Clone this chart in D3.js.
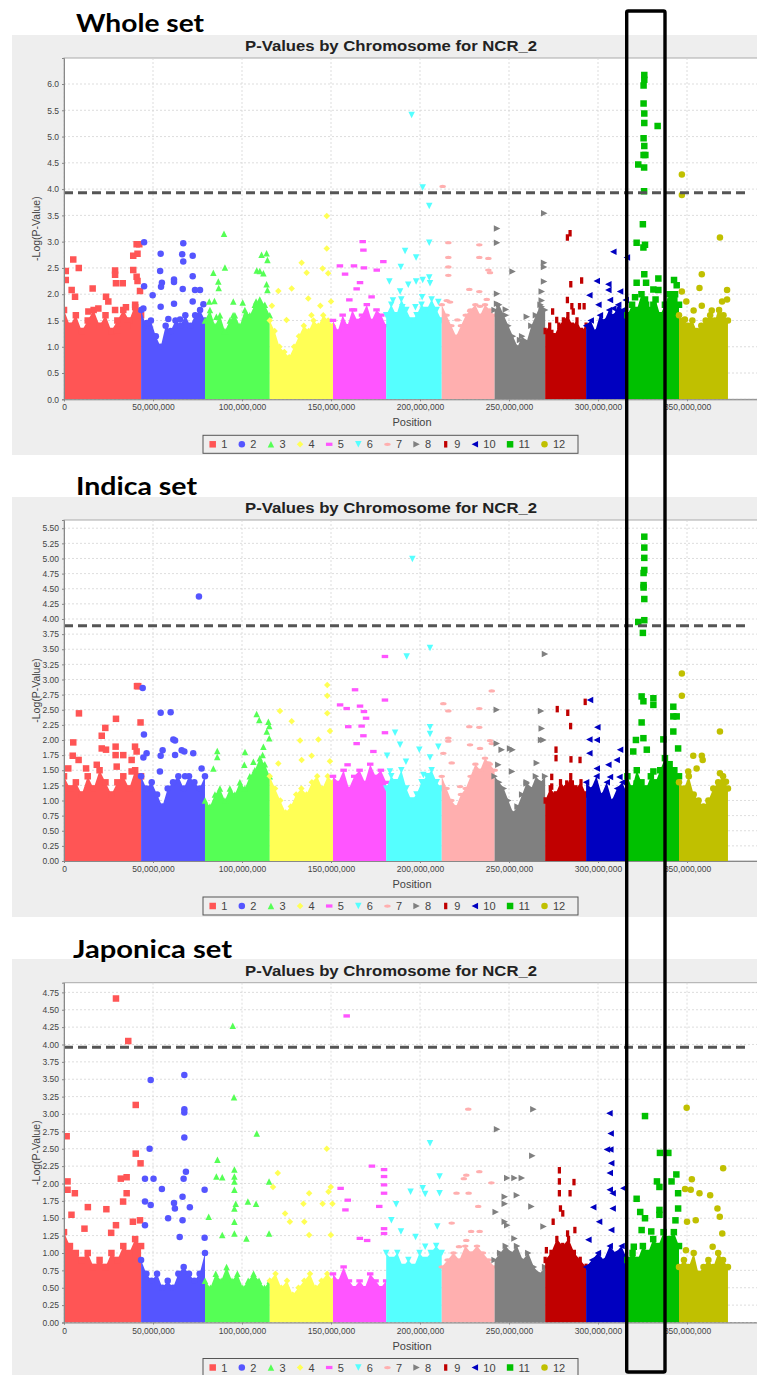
<!DOCTYPE html>
<html><head><meta charset="utf-8">
<script src="https://cdn.jsdelivr.net/npm/d3@7"></script>
<style>body{margin:0;background:#fff;} svg{display:block;}</style>
</head><body>
<svg id="c" width="757" height="1375"></svg>
<script>
// ---------------- DATA ----------------
const chromosomes = ["1","2","3","4","5","6","7","8","9","10","11","12"];
const chromStartMb = [0,43.3,79.2,115.6,151.1,181.0,212.2,241.9,270.3,293.3,316.5,345.5];
const chromEndMb   = [43.3,79.2,115.6,151.1,181.0,212.2,241.9,270.3,293.3,316.5,345.5,373.0];
const xTickMb = [0,50,100,150,200,250,300,350];
const wholeYTicks = [0,0.5,1,1.5,2,2.5,3,3.5,4,4.5,5,5.5,6];
const indicaYTicks = [0,0.25,0.5,0.75,1,1.25,1.5,1.75,2,2.25,2.5,2.75,3,3.25,3.5,3.75,4,4.25,4.5,4.75,5,5.25,5.5];
const japonicaYTicks = [0,0.25,0.5,0.75,1,1.25,1.5,1.75,2,2.25,2.5,2.75,3,3.25,3.5,3.75,4,4.25,4.5,4.75];
const wholeThreshold = 3.93, indicaThreshold = 3.89, japonicaThreshold = 3.96;
const chartTitle = "P-Values by Chromosome for NCR_2";

// dense body height (-log p) per chromosome, sampled evenly along each chromosome
const wholeBody = [
 [1.7,1.4,1.6,1.3,1.5,1.7,1.4,1.6,1.3,1.5,1.7,1.5,1.8,1.6],
 [1.7,1.4,1.5,1.2,1.0,1.4,1.3,1.5,1.4,1.6,1.4,1.6,1.7,1.5],
 [1.5,1.7,1.4,1.6,1.3,1.5,1.6,1.4,1.7,1.6,1.8,1.9,1.8,1.6],
 [1.5,1.3,1.0,0.9,0.8,1.0,1.2,1.4,1.3,1.5,1.4,1.6,1.5,1.4],
 [1.5,1.3,1.6,1.4,1.7,1.5,1.6,1.8,1.5,1.7,1.6,1.4],
 [1.6,1.8,1.6,1.9,1.7,1.5,1.6,1.8,1.7,1.9,1.7,1.5],
 [1.8,1.6,1.4,1.2,1.4,1.6,1.7,1.8,1.6,1.8,1.7,1.6],
 [1.7,1.8,1.6,1.4,1.2,1.0,1.2,1.1,1.4,1.6,1.8,1.7],
 [1.3,1.4,1.2,1.4,1.5,1.6,1.4,1.5,1.3,1.4],
 [1.4,1.5,1.3,1.6,1.5,1.7,1.6,1.8,1.7,1.6],
 [1.6,1.8,1.7,2.0,1.8,1.7,1.9,1.6,1.8,2.0,1.9,1.8],
 [1.6,1.5,1.4,1.5,1.3,1.4,1.5,1.6,1.5,1.7,1.6,1.5]
];
// [chromosome, genome position (Mb), -log10 p]
const wholeHits = [
 [1,1.0,2.44],[1,1.0,2.27],[1,5.2,2.66],[1,4.3,2.08],[1,6.2,1.95],[1,8.3,2.50],[1,13.7,1.67],[1,16.1,2.11],[1,19.3,1.73],[1,23.6,1.95],[1,24.9,1.86],[1,28.7,2.45],[1,28.7,2.37],[1,28.7,1.70],[1,29.2,2.21],[1,29.8,1.32],[1,33,2.21],[1,34.8,1.75],[1,35.6,1.40],[1,38.9,2.73],[1,38.9,2.46],[1,40,1.75],[1,40.8,2.95],[1,40.8,2.33],[1,41.3,2.77],[1,41.3,2.25],[1,42.3,2.95],[1,42.7,2.06],
 [2,45,2.99],[2,54.3,2.77],[2,54,2.44],[2,55,2.22],[2,54.5,2.14],[2,45,2.15],[2,49.8,1.98],[2,44.6,1.73],[2,54.3,1.76],[2,67,2.97],[2,66.4,2.76],[2,67,2.62],[2,72.3,2.73],[2,61.8,2.28],[2,61.8,2.23],[2,66.7,2.10],[2,72.3,2.34],[2,73.6,2.08],[2,76.4,2.08],[2,72.3,1.86],[2,78.3,1.81],[2,61.8,1.82],[2,58.6,1.53],[2,65.2,1.52],[2,46.5,1.45],
 [3,89.9,3.15],[3,90.4,2.51],[3,83.9,2.41],[3,86.7,2.24],[3,86.9,2.12],[3,81.6,1.86],[3,84.5,1.87],[3,95.1,1.86],[3,100.4,1.84],[3,108.3,2.45],[3,110,2.44],[3,112,2.40],[3,111,2.75],[3,113.8,2.78],[3,114.3,2.65],[3,113.8,2.19],[3,114.3,2.08],[3,107.9,1.86],[3,85.6,1.57],[3,95,1.60],
 [4,147.6,3.49],[4,147.6,2.87],[4,145.3,2.49],[4,148.4,2.40],[4,133.5,2.60],[4,136.3,2.41],[4,127.9,2.11],[4,120.4,2.06],[4,137.2,1.92],[4,150,1.86],[4,144,1.78],[4,116.8,1.78],[4,125,1.51],[4,139,1.60],
 [5,167.8,3.00],[5,168.2,2.84],[5,155,2.54],[5,157.9,2.38],[5,162.9,2.54],[5,166.3,2.22],[5,164.4,2.10],[5,168.5,2.50],[5,175.7,2.46],[5,172.8,1.95],[5,160.3,1.89],[5,162.9,1.70],[5,179.4,2.62],
 [6,195.3,5.41],[6,201.5,4.03],[6,205.2,3.68],[6,205.2,2.98],[6,191.6,2.82],[6,197.8,2.70],[6,189.2,2.52],[6,182.8,2.24],[6,193.4,2.18],[6,197.8,2.24],[6,201.5,2.27],[6,205.2,2.32],[6,188.8,2.05],[6,205.6,2.21],[6,201.2,1.94],[6,190.1,1.75],[6,184.8,1.88],[6,210.3,1.85],[6,197.4,1.75],
 [7,212.7,4.05],[7,215.9,2.98],[7,233.3,2.94],[7,215.9,2.70],[7,215.9,2.52],[7,215.9,2.36],[7,233.3,2.70],[7,238.4,2.68],[7,238.4,2.46],[7,239.3,2.41],[7,227.7,2.09],[7,233.3,2.05],[7,237.5,1.90],[7,215,1.88],[7,216.9,1.85],[7,233.7,1.77],[7,228.1,1.68],[7,221,1.51],
 [8,269.8,3.54],[8,243.3,3.25],[8,243.3,2.98],[8,269.7,2.60],[8,269.7,2.52],[8,252,2.43],[8,269.7,2.24],[8,243.3,2.01],[8,243.3,1.82],[8,248.2,1.71],[8,248.2,1.60],[8,268.4,2.05],[8,268.4,1.88],[8,268.4,1.76],[8,260,1.57],[8,256.2,1.13],
 [9,284.3,3.16],[9,282.8,3.08],[9,284.7,2.19],[9,290.8,2.26],[9,282.8,1.89],[9,285.3,1.77],[9,289.6,1.77],[9,292.2,1.77],[9,274.5,1.67],[9,286.1,1.67],[9,276.8,1.51],[9,274.1,1.26],[9,274.1,1.06],
 [10,308.6,2.81],[10,299.3,2.25],[10,305.8,2.19],[10,305.8,2.08],[10,295.1,1.98],[10,312.4,2.05],[10,316.2,2.70],[10,300.2,1.80],[10,306.7,1.89],[10,308.6,1.73],[10,315.5,1.89],
 [11,326,6.17],[11,326,6.08],[11,325.6,5.97],[11,325.6,5.63],[11,326,5.44],[11,326,5.26],[11,333.5,5.20],[11,325.6,4.97],[11,326,4.82],[11,325.6,4.65],[11,326.6,4.65],[11,322.6,4.47],[11,325.9,4.41],[11,325.9,3.96],[11,325.2,3.33],[11,321.7,2.98],[11,326.4,2.94],[11,325.5,2.89],[11,326,2.38],[11,321.7,2.22],[11,327,2.22],[11,320.8,1.94],[11,333.9,2.30],[11,333.9,2.08],[11,331.1,2.09],[11,342.7,2.27],[11,344.2,2.17],[11,343.3,2.00],[11,326.4,1.90],[11,331.1,1.80],[11,340.4,1.86],
 [12,347.1,4.28],[12,347.1,3.89],[12,368.5,3.08],[12,358.3,2.38],[12,357,2.12],[12,372.5,2.08],[12,372.5,1.90],[12,369.7,1.86],[12,347.1,2.05],[12,349.6,1.86],[12,353.7,1.69],[12,368.5,1.60],[12,348.8,1.52],[12,358.3,1.78],[12,363.9,1.69]
];

const indicaBody = [
 [1.4,1.2,1.3,1.1,1.4,1.2,1.5,1.3,1.1,1.3,1.4,1.2,1.5,1.4],
 [1.4,1.2,1.3,1.1,0.9,1.2,1.3,1.4,1.2,1.4,1.3,1.2,1.4],
 [1.0,0.9,1.1,1.2,1.0,1.2,1.1,1.3,1.2,1.4,1.5,1.7,1.6,1.4],
 [1.4,1.2,1.0,0.8,0.9,1.1,1.2,1.1,1.3,1.4,1.2,1.4,1.3],
 [1.4,1.3,1.5,1.2,1.4,1.5,1.3,1.6,1.4,1.5,1.3],
 [1.2,1.4,1.3,1.5,1.2,1.0,1.1,1.3,1.4,1.5,1.3,1.2],
 [1.4,1.2,1.0,0.9,1.1,1.2,1.4,1.6,1.5,1.7,1.6,1.5],
 [1.4,1.3,1.2,1.0,0.8,0.9,1.1,1.3,1.2,1.4,1.3,1.4],
 [1.0,1.2,1.1,1.3,1.2,1.4,1.2,1.3,1.1],
 [1.3,1.2,1.4,1.1,1.3,1.0,1.2,1.3,1.1],
 [1.4,1.2,1.5,1.3,1.2,1.4,1.3,1.5,1.7,1.6,1.5,1.4],
 [1.3,1.2,1.4,1.1,1.0,0.9,1.0,1.2,1.3,1.4,1.2]
];
const indicaHits = [
 [1,41.7,2.89],[1,41.0,2.89],[1,8.4,2.44],[1,29.2,2.35],[1,23.2,2.20],[1,21.2,2.07],[1,43,2.29],[1,5.2,1.96],[1,21.2,1.86],[1,23.6,1.84],[1,29,1.89],[1,39.9,1.89],[1,40.8,1.81],[1,4.9,1.74],[1,8.2,1.67],[1,29,1.75],[1,33.3,1.75],[1,38,1.67],[1,18.4,1.59],[1,29.6,1.56],[1,2.4,1.53],[1,12.4,1.53],[1,38,1.48],
 [2,44.2,2.86],[2,54.3,2.45],[2,59.9,2.46],[2,44.9,2.09],[2,61.4,2.01],[2,62.4,1.99],[2,46.4,1.78],[2,55.4,1.83],[2,66.1,1.83],[2,67.6,1.81],[2,72.6,1.78],[2,54.3,1.74],[2,62.4,1.75],[2,44.6,1.71],[2,77.3,1.53],[2,53.9,1.48],[2,68,1.40],[2,75.8,4.37],
 [3,108.2,2.43],[3,109.7,2.33],[3,114.8,2.30],[3,115.3,2.23],[3,113.9,2.14],[3,115.3,2.03],[3,86.1,1.82],[3,86.1,1.72],[3,101.7,1.80],[3,112,1.89],[3,83.9,1.53],[3,111.6,1.75],[3,101.3,1.59],[3,106.4,1.64],
 [4,147.9,2.91],[4,147.9,2.73],[4,147.9,2.44],[4,121.3,2.48],[4,127.9,2.31],[4,149.4,2.15],[4,132.6,1.99],[4,142.9,2.01],[4,139.1,1.74],[4,149.4,1.65],[4,120.4,1.61],[4,133.5,1.67],
 [5,163.5,2.83],[5,155.1,2.58],[5,158.8,2.52],[5,166.3,2.56],[5,168.5,2.47],[5,169.7,2.36],[5,159.7,2.22],[5,167.2,2.23],[5,168.2,2.07],[5,164.4,1.94],[5,180.3,3.38],[5,180.3,2.66],[5,180.3,2.12],[5,173.8,1.81],[5,159.3,1.59],
 [6,195.7,4.99],[6,192.5,3.38],[6,205.6,3.52],[6,186,2.12],[6,205.6,2.21],[6,205.6,2.10],[6,181.5,1.74],[6,188.8,1.92],[6,192.1,1.64],[6,205.6,1.71],[6,210.3,1.89],[6,199.6,1.84],[6,183.1,1.48],[6,201.9,1.42],
 [7,240.3,2.81],[7,213.1,2.60],[7,215.9,2.48],[7,233.3,2.52],[7,227.7,2.22],[7,233.3,2.21],[7,215.9,2.03],[7,215.9,1.98],[7,239.3,1.99],[7,240.3,1.94],[7,228.1,1.92],[7,233.7,1.86],[7,213.1,1.78],[7,217.8,1.62],[7,238.4,1.62],[7,222.5,1.23],
 [8,270.2,3.42],[8,243.1,2.50],[8,268,2.48],[8,268.4,2.19],[8,268,2.00],[8,269.3,2.00],[8,250.6,1.86],[8,252,1.84],[8,243.1,1.94],[8,245.9,1.84],[8,265.6,1.62],[8,251.7,1.48],[8,259.9,1.28],[8,244,1.59],
 [9,277.1,2.51],[9,283,2.45],[9,292.8,2.63],[9,284.6,2.23],[9,276.4,1.84],[9,276.4,1.70],[9,284.8,1.68],[9,289.9,1.67],[9,274,1.39],[9,274,1.23],[9,282.4,1.28],[9,285.6,1.28],
 [10,295.5,2.66],[10,299.6,2.21],[10,295.1,2.01],[10,299.3,2.00],[10,312.4,1.84],[10,295.1,1.78],[10,310.5,1.67],[10,305.8,1.59],[10,299.3,1.53],[10,306.7,1.39],[10,312,1.39],
 [11,326,5.36],[11,326,5.18],[11,326,5.01],[11,326,4.81],[11,325.6,4.76],[11,325.6,4.56],[11,325.6,4.52],[11,326,4.33],[11,326,3.98],[11,322.6,3.95],[11,325.2,3.77],[11,324.5,2.72],[11,331.1,2.69],[11,325.5,2.64],[11,331.1,2.58],[11,342.3,2.55],[11,342.3,2.39],[11,344.2,2.39],[11,324.5,2.29],[11,321.3,2.00],[11,325.5,2.03],[11,336.7,2.01],[11,342.3,2.14],[11,345,1.86],[11,319.8,1.81],[11,327.4,1.84],[11,331.1,1.48],[11,321.7,1.28],
 [12,347.1,3.10],[12,347.1,2.73],[12,368.5,2.14],[12,353.5,1.74],[12,358.3,1.74],[12,358.8,1.67],[12,368.5,1.45],[12,371.9,1.31],[12,350.7,1.48],[12,355.4,1.53]
];

const japonicaBody = [
 [1.3,1.1,1.0,0.9,1.0,0.8,0.9,0.8,1.0,0.9,1.1,1.0,1.2,1.1],
 [0.9,0.7,0.6,0.7,0.5,0.6,0.5,0.7,0.8,0.7,0.6,0.7,1.0],
 [0.6,0.5,0.7,0.6,0.8,0.6,0.7,0.5,0.6,0.7,0.6,0.5,0.6],
 [0.6,0.7,0.5,0.6,0.4,0.5,0.6,0.7,0.5,0.6,0.7,0.6],
 [0.7,0.6,0.8,0.6,0.5,0.6,0.5,0.7,0.6,0.5,0.6],
 [1.0,0.9,1.0,0.8,0.9,0.8,1.0,0.9,1.0,1.1,1.0],
 [0.8,0.9,1.0,0.9,1.1,1.0,1.1,1.0,0.9,0.8],
 [0.9,1.0,1.1,1.0,1.1,0.9,1.0,0.8,0.7,0.8],
 [0.9,1.0,1.2,1.1,1.2,1.0,0.9,0.8],
 [0.8,0.9,1.0,0.9,1.1,1.0,1.1,0.9],
 [0.9,1.0,0.9,1.1,1.0,1.2,1.1,1.3,1.2,1.3,1.1],
 [0.8,0.9,0.8,1.0,0.7,0.8,0.9,0.8,1.0,0.9,0.8]
];
const japonicaHits = [
 [1,29.2,4.66],[1,36.1,4.05],[1,40.3,3.13],[1,1.5,2.68],[1,40.3,2.43],[1,43,2.29],[1,2,2.03],[1,2,1.91],[1,6.1,1.86],[1,31.9,2.07],[1,35.2,2.09],[1,35.2,1.86],[1,33.2,1.74],[1,23.8,1.63],[1,13.4,1.66],[1,42.7,1.47],[1,38.7,1.45],[1,4.2,1.55],[1,11.5,1.35],[1,29.2,1.40],[1,26.5,1.29],
 [2,48.7,3.49],[2,67.6,3.56],[2,67.6,3.07],[2,67.6,3.02],[2,67.6,2.66],[2,48.1,2.50],[2,68.5,2.17],[2,45.5,2.07],[2,50.3,2.07],[2,67.2,2.07],[2,55,1.92],[2,48.7,1.69],[2,61.8,1.72],[2,66.6,1.81],[2,62.3,1.64],[2,70.7,1.66],[2,79,1.91],[2,66.6,1.47],[2,58.5,1.50],[2,65,1.23],[2,79,1.22],[2,45.5,1.40],[2,45.5,1.74],
 [3,94.8,4.27],[3,95.5,3.24],[3,108.3,2.72],[3,86.2,2.34],[3,85.6,2.10],[3,88.9,2.09],[3,95.7,2.20],[3,95.7,2.10],[3,95.7,2.03],[3,95.7,1.91],[3,115.2,2.03],[3,103.3,1.74],[3,107.9,1.71],[3,96.5,1.71],[3,81.3,1.52],[3,95.7,1.64],[3,95.7,1.45],[3,95.7,1.28],[3,88.9,1.26],[3,102.5,1.21],[3,115.2,1.28],
 [4,147.6,2.50],[4,120.1,2.15],[4,117.4,1.95],[4,124.2,1.57],[4,134.5,1.71],[4,137.7,1.86],[4,149.9,1.95],[4,148.6,1.88],[4,145.3,1.71],[4,126.9,1.45],[4,135,1.45],[4,137.7,1.26],[4,150.8,1.71],[4,149.9,1.26],
 [5,158.8,4.41],[5,173,2.25],[5,179.8,2.20],[5,179.8,2.10],[5,179.8,1.98],[5,179.8,1.86],[5,177.1,1.67],[5,155.4,1.93],[5,159.4,1.76],[5,158.1,1.62],[5,166.2,1.21],[5,170.3,1.18],[5,179.8,1.35],[5,179.8,1.28],
 [6,205.6,2.58],[6,211,2.10],[6,201.5,1.93],[6,194.7,1.88],[6,186.6,1.70],[6,202.9,1.85],[6,211,1.86],[6,183.9,1.47],[6,189.3,1.31],[6,197.5,1.23],[6,209.7,1.38],[6,202.9,1.09],
 [7,227.1,3.07],[7,226,2.12],[7,233.3,2.17],[7,224.6,2.07],[7,240.1,2.01],[7,220.5,1.86],[7,227.3,1.86],[7,232.7,1.67],[7,228.7,1.31],[7,233.5,1.31],[7,217.8,1.43],[7,226,1.18],[7,221.9,1.09],
 [8,263.7,3.07],[8,243.3,2.78],[8,263.1,2.40],[8,249,2.08],[8,253.1,2.08],[8,257.2,2.08],[8,247.6,1.81],[8,254.4,1.83],[8,247.6,1.71],[8,262.6,1.67],[8,247.6,1.45],[8,249,1.40],[8,242.5,1.59],[8,269.4,1.38],[8,253.1,1.21],
 [9,278.3,2.19],[9,278.3,2.03],[9,278.3,1.86],[9,286.5,2.02],[9,284.3,1.86],[9,278.9,1.64],[9,280.2,1.57],[9,274.8,1.45],[9,287,1.33],[9,282.9,1.28],[9,271,1.04],
 [10,306.4,3.01],[10,307.1,2.72],[10,305,2.49],[10,306.9,2.49],[10,307.4,2.29],[10,306.6,2.15],[10,306.6,1.91],[10,308.2,1.86],[10,308.2,1.64],[10,297.3,1.66],[10,307.4,1.33],[10,294.6,1.19],[10,314.2,1.93],[10,300.6,1.45],
 [11,326.4,2.97],[11,334.8,2.44],[11,339.5,2.44],[11,321.7,1.78],[11,323.7,1.59],[11,326.4,1.50],[11,324.5,1.33],[11,333.1,2.03],[11,334.5,1.95],[11,334.5,1.62],[11,334.5,1.55],[11,341.3,2.03],[11,344,2.13],[11,345,1.86],[11,345,1.64],[11,343.5,1.47],[11,320.1,1.09],[11,329.9,1.31],
 [12,349.8,3.09],[12,370.3,2.22],[12,352.7,2.06],[12,348.9,1.92],[12,352.1,1.91],[12,357,1.86],[12,363,1.83],[12,367.1,1.64],[12,350,1.45],[12,354.9,1.47],[12,368.4,1.52],[12,369.8,1.28],[12,364.4,1.09],[12,349.4,1.04]
];

// ---------------- STYLE / LAYOUT ----------------
const chromColors = ["#FF5555","#5555FF","#55FF55","#FFFF55","#FF55FF","#55FFFF","#FFAFAF","#808080","#C00000","#0000C0","#00C000","#C0C000"];
const panels = [
 {name:"Whole set", body:wholeBody, hits:wholeHits, yTicks:wholeYTicks, thr:wholeThreshold, fmt:".1f",
  headX:76, headW:128, headY:31.5, grayTop:35, grayBottom:455, plotTop:58, plotBottom:399.3, yMax:6.495},
 {name:"Indica set", body:indicaBody, hits:indicaHits, yTicks:indicaYTicks, thr:indicaThreshold, fmt:".2f",
  headX:76, headW:121, headY:495, grayTop:497, grayBottom:917, plotTop:520, plotBottom:861, yMax:5.636},
 {name:"Japonica set", body:japonicaBody, hits:japonicaHits, yTicks:japonicaYTicks, thr:japonicaThreshold, fmt:".2f",
  headX:73, headW:159, headY:957.5, grayTop:959, grayBottom:1375, plotTop:982.7, plotBottom:1322.5, yMax:4.889}
];
const plotLeft = 64, plotRight = 760, xMaxMb = 391, thrEndMb = 384;
const symSize = 6.5;

function shapePath(k, s){
  const h = s/2;
  switch(k){
    case 0: return `M${-h},${-h}h${s}v${s}h${-s}Z`;
    case 1: return `M${h},0A${h},${h} 0 1,1 ${-h},0A${h},${h} 0 1,1 ${h},0Z`;
    case 2: return `M0,${-h}L${h},${h}L${-h},${h}Z`;
    case 3: return `M0,${-h}L${h},0L0,${h}L${-h},0Z`;
    case 4: return `M${-h},${-h/2}h${s}v${h}h${-s}Z`;
    case 5: return `M${-h},${-h}L${h},${-h}L0,${h}Z`;
    case 6: return `M${h},0A${h},${h/2} 0 1,1 ${-h},0A${h},${h/2} 0 1,1 ${h},0Z`;
    case 7: return `M${-h},${-h}L${h},0L${-h},${h}Z`;
    case 8: return `M${-h/2},${-h}h${h}v${s}h${-h}Z`;
    default: return `M${h},${-h}L${-h},0L${h},${h}Z`;
  }
}

const svg = d3.select("#c");
const x = d3.scaleLinear().domain([0, xMaxMb*1e6]).range([plotLeft, plotRight]);

panels.forEach((P, pi) => {
  const g = svg.append("g");
  g.append("rect").attr("x",12).attr("y",P.grayTop).attr("width",760).attr("height",P.grayBottom-P.grayTop).attr("fill","#EEEEEE");
  const y = d3.scaleLinear().domain([0, P.yMax]).range([P.plotBottom, P.plotTop]);
  g.append("text").attr("x",391).attr("y",P.plotTop-7).attr("text-anchor","middle")
    .attr("font-family","Liberation Sans, Arial, sans-serif").attr("font-weight","bold").attr("font-size",14)
    .attr("fill","#222").attr("textLength",292).attr("lengthAdjust","spacingAndGlyphs").text(chartTitle);
  g.append("rect").attr("x",plotLeft).attr("y",P.plotTop).attr("width",plotRight-plotLeft).attr("height",P.plotBottom-P.plotTop)
    .attr("fill","#fff").attr("stroke","#aaa").attr("stroke-width",1);
  g.append("g").selectAll("line").data(P.yTicks).join("line")
    .attr("x1",plotLeft).attr("x2",plotRight).attr("y1",d=>y(d)).attr("y2",d=>y(d))
    .attr("stroke","#d4d4d4").attr("stroke-width",0.8).attr("stroke-dasharray","2,2");
  g.append("g").selectAll("line").data(xTickMb).join("line")
    .attr("x1",d=>x(d*1e6)).attr("x2",d=>x(d*1e6)).attr("y1",P.plotTop).attr("y2",P.plotBottom)
    .attr("stroke","#d4d4d4").attr("stroke-width",0.8).attr("stroke-dasharray","2,2");
  const clipId = "clip"+pi;
  g.append("clipPath").attr("id",clipId).append("rect").attr("x",plotLeft).attr("y",P.plotTop-4).attr("width",plotRight-plotLeft).attr("height",P.plotBottom-P.plotTop+4);
  const dg = g.append("g").attr("clip-path",`url(#${clipId})`);
  const area = d3.area().x(d=>x(d.p*1e6)).y0(y(0)).y1(d=>y(d.v));
  P.body.forEach((vals, ci) => {
    const s = chromStartMb[ci], e = chromEndMb[ci];
    const pts = vals.map((v,k)=>({p: s + (e-s)*k/(vals.length-1), v}));
    dg.append("path").datum(pts).attr("d",area).attr("fill",chromColors[ci]);
    dg.append("g").selectAll("path").data(pts).join("path")
      .attr("transform",d=>`translate(${x(d.p*1e6)},${y(d.v)})`)
      .attr("d",shapePath(ci%10,symSize)).attr("fill",chromColors[ci]);
  });
  const hits = P.hits.slice().sort((a,b)=>a[0]-b[0]);
  dg.append("g").selectAll("path").data(hits).join("path")
    .attr("transform",d=>`translate(${x(d[1]*1e6)},${y(d[2])})`)
    .attr("d",d=>shapePath((d[0]-1)%10,symSize)).attr("fill",d=>chromColors[d[0]-1]);
  g.append("line").attr("x1",x(0)).attr("x2",x(thrEndMb*1e6)).attr("y1",y(P.thr)).attr("y2",y(P.thr))
    .attr("stroke","#555").attr("stroke-width",3).attr("stroke-dasharray","9,5");
  const ya = d3.axisLeft(y).tickValues(P.yTicks).tickFormat(d3.format(P.fmt)).tickSize(2).tickPadding(3);
  const yg = g.append("g").attr("transform",`translate(${plotLeft},0)`).call(ya);
  const xa = d3.axisBottom(x).tickValues(xTickMb.map(d=>d*1e6)).tickFormat(d3.format(",")).tickSize(2).tickPadding(3);
  const xg = g.append("g").attr("transform",`translate(0,${P.plotBottom})`).call(xa);
  [yg,xg].forEach(a=>{
    a.selectAll("path.domain").attr("stroke","#888");
    a.selectAll(".tick line").attr("stroke","#888");
    a.selectAll("text").attr("font-family","Liberation Sans, Arial, sans-serif").attr("font-size",8.5).attr("fill","#444");
  });
  g.append("text").attr("x",(plotLeft+plotRight)/2).attr("y",P.plotBottom+27).attr("text-anchor","middle")
    .attr("font-family","Liberation Sans, Arial, sans-serif").attr("font-size",11).attr("fill","#444").text("Position");
  g.append("text").attr("transform",`translate(40,${(P.plotTop+P.plotBottom)/2}) rotate(-90)`).attr("text-anchor","middle")
    .attr("font-family","Liberation Sans, Arial, sans-serif").attr("font-size",10.5).attr("fill","#444").text("-Log(P-Value)");
  const lt = P.plotBottom + 36;
  const lg = g.append("g");
  lg.append("rect").attr("x",203).attr("y",lt).attr("width",375).attr("height",18).attr("fill","#EEEEEE").attr("stroke","#555").attr("stroke-width",1);
  let cur = 208.7;
  chromosomes.forEach((c,ci)=>{
    lg.append("path").attr("transform",`translate(${cur+4},${lt+9})`).attr("d",shapePath(ci%10,6.5)).attr("fill",chromColors[ci]);
    const t = lg.append("text").attr("x",cur+12.5).attr("y",lt+13).attr("font-family","Liberation Sans, Arial, sans-serif")
      .attr("font-size",11).attr("fill","#444").text(c);
    cur = cur + 12.5 + t.node().getComputedTextLength() + 10.5;
  });
  svg.append("text").attr("x",P.headX).attr("y",P.headY).attr("font-family","Lato, 'Open Sans', sans-serif")
    .attr("font-weight","bold").attr("font-size",25).attr("fill","#000")
    .attr("textLength",P.headW).attr("lengthAdjust","spacingAndGlyphs").text(P.name);
});

svg.append("rect").attr("x",626.7).attr("y",11).attr("width",38.3).attr("height",1361).attr("rx",1.5)
  .attr("fill","none").attr("stroke","#000").attr("stroke-width",3.4);
</script>
</body></html>
